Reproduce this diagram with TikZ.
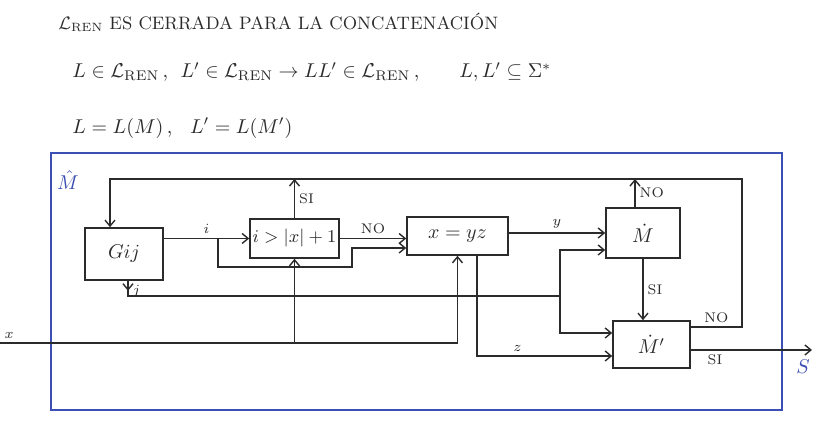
\documentclass[tikz,border=0pt]{standalone}
\usepackage{fontspec}
\usepackage{amsmath,amssymb}
\usepackage{tikz}
\usetikzlibrary{arrows.meta,positioning,calc}
\definecolor{PenInk}{HTML}{2B2B2B}
\definecolor{FrameBlue}{HTML}{3B4FB4}
\newcommand{\Lren}{\mathcal{L}_{\mathrm{REN}}}

\begin{document}
\begin{tikzpicture}[x=0.5pt,y=-0.5pt,
  >={Straight Barb[length=3pt,width=5pt]},
  blk/.style={draw=PenInk, line width=0.8pt, inner sep=0pt, align=center,
              font=\normalsize\color{PenInk}},
  wire/.style={draw=PenInk, line width=0.7pt},
  lbl/.style={font=\scriptsize\color{PenInk}, inner sep=2pt},
  txt/.style={font=\normalsize\color{PenInk}, inner sep=0pt}]
  \useasboundingbox (0,0) rectangle (821,431);
  \fill[white] (0,0) rectangle (821,431);

  \node[txt, anchor=west, font=\small\color{PenInk}] (title) at (58,22) {$\Lren$ ES CERRADA PARA LA CONCATENACIÓN};
  \node[txt, anchor=west] (prop) at (72,72) {$L\in\Lren$\,,\; $L'\in\Lren\rightarrow LL'\in\Lren$\,,\qquad $L,L'\subseteq\Sigma^{*}$};
  \node[txt, anchor=west] (lang) at (72,128) {$L=L(M)$\,,\;\; $L'=L(M')$};

  \draw[FrameBlue, line width=0.7pt] (51,153) rectangle (782,410);
  \node[txt, FrameBlue] (mhat) at (68,180) {$\hat{M}$};

  \node[blk, minimum width=39pt, minimum height=26pt] (gij) at (124,254) {$Gij$};
  \node[blk, minimum width=44.5pt, minimum height=19.5pt, font=\small\color{PenInk}] (cmp) at (294.5,238.5) {$i>|x|+1$};
  \node[blk, minimum width=50.5pt, minimum height=19pt] (split) at (457.5,236) {$x=yz$};
  \node[blk, minimum width=37pt, minimum height=25pt] (mdot) at (643,233) {$\dot{M}$};
  \node[blk, minimum width=38.5pt, minimum height=23.5pt] (mpdot) at (651.5,344.5) {$\dot{M}'$};

  \coordinate (tl) at (110,179);
  \coordinate (tr) at (742,179);
  \coordinate (br) at (742,327);
  \coordinate (ifork) at (218,238.5);
  \coordinate (jfork) at (560,296);
  \coordinate (jtop) at (560,250);
  \coordinate (jbot) at (560,333);
  \coordinate (xin) at (0,343);
  \coordinate (zbend) at (477,356);
  \coordinate (sout) at (812,350);

  \draw[wire,->] (gij.east |- cmp.west) -- node[lbl, above] {$i$} (cmp.west);
  \draw[wire,->] (ifork) -- (218,267) -- (352,267) -- (352,248) -- ([yshift=-6pt]split.west);
  \draw[wire,->] (cmp.east) -- node[lbl, above] {NO} (cmp.east -| split.west);
  \draw[wire,->] (cmp.north) -- node[lbl, right] {SI} (cmp.north |- tl);
  \draw[wire,->] (mpdot.east |- br) -- node[lbl, above] {NO} (br) -- (tr) -- (tl) -- (tl |- gij.north);
  \draw[wire,->] ([xshift=-4pt]mdot.north) -- node[lbl, right] {NO} ([xshift=-4pt]mdot.north |- tl);
  \draw[wire,->] (split.east |- mdot.west) -- node[lbl, above] {$y$} (mdot.west);

  \draw[wire,->] ([xshift=2pt]gij.south) -- ++(0,10) node[lbl, right] {$j$};
  \draw[wire] ([xshift=2pt]gij.south) -- ([xshift=2pt]gij.south |- jfork) -- (jfork);
  \draw[wire,->] (jfork) -- (jtop) -- (jtop -| mdot.west);
  \draw[wire,->] (jfork) -- (jbot) -- (jbot -| mpdot.west);

  \draw[wire,->] (xin) node[lbl, above right] {$x$} -- (xin -| split.south) -- (split.south);
  \draw[wire,->] (xin -| cmp.south) -- (cmp.south);
  \draw[wire,->] (split.south -| zbend) -- (zbend) -- node[lbl, above, pos=0.3] {$z$} (zbend -| mpdot.west);

  \draw[wire,->] (mdot.south) -- node[lbl, right] {SI} (mdot.south |- mpdot.north);
  \draw[wire,->] (mpdot.east |- sout) -- node[lbl, below, pos=0.2] {SI} (sout);
  \node[txt, FrameBlue] (sres) at (803,367) {$S$};
\end{tikzpicture}
\end{document}
